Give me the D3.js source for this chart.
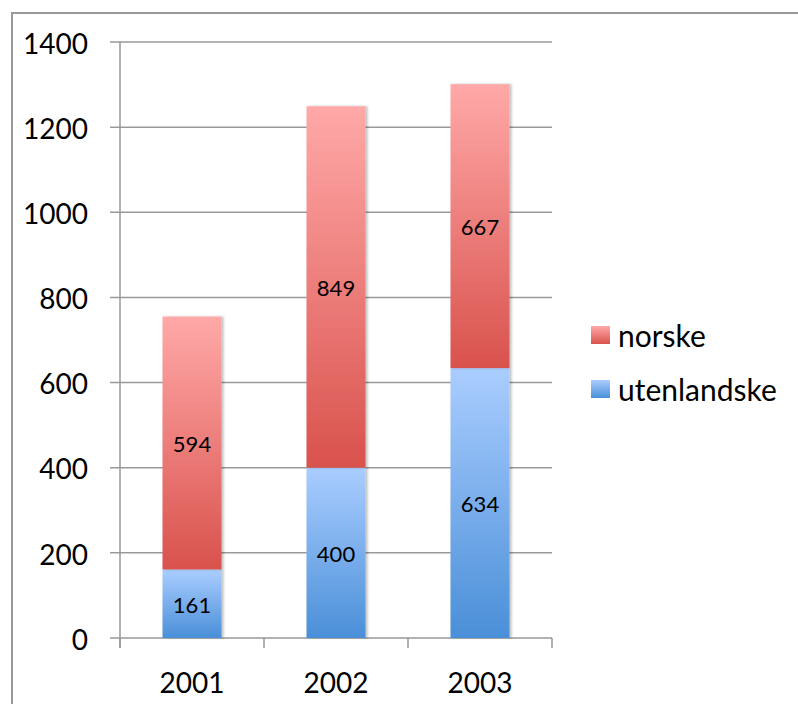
<!DOCTYPE html>
<html>
<head>
<meta charset="utf-8">
<script src="https://cdn.jsdelivr.net/npm/d3@7"></script>
<style>
  body { margin: 0; background: #fff; }
  svg { display: block; font-family: Lato, 'Open Sans', sans-serif; }
</style>
</head>
<body>
<div id="chart"></div>
<script>
const years = ['2001', '2002', '2003']
const utenlandske = [161, 400, 634]
const norske = [594, 849, 667]
const yTicks = [0, 200, 400, 600, 800, 1000, 1200, 1400]
const seriesNames = ['utenlandske', 'norske']

const width = 798
const height = 704
const margin = { left: 120, right: 246, top: 42, bottom: 66 }

const svg = d3.select('#chart')
  .append('svg')
  .attr('width', width)
  .attr('height', height)

// outer frame of the chart area
svg.append('rect')
  .attr('x', 12).attr('y', 13)
  .attr('width', width + 20).attr('height', height + 20)
  .attr('fill', 'none')
  .attr('stroke', '#999')
  .attr('stroke-width', 2)

const defs = svg.append('defs')
const gradients = {
  norske: ['#ffa9a8', '#d9524d'],
  utenlandske: ['#aacdff', '#4a8fd8']
}
Object.entries(gradients).forEach(([key, c]) => {
  const g = defs.append('linearGradient')
    .attr('id', 'grad-' + key)
    .attr('x1', 0).attr('y1', 0).attr('x2', 0).attr('y2', 1)
  g.append('stop').attr('offset', '0%').attr('stop-color', c[0])
  g.append('stop').attr('offset', '100%').attr('stop-color', c[1])
})
const shadow = defs.append('filter').attr('id', 'shadow')
  .attr('x', '-10%').attr('y', '-10%').attr('width', '130%').attr('height', '120%')
shadow.append('feDropShadow')
  .attr('dx', 2).attr('dy', 0).attr('stdDeviation', 1.2)
  .attr('flood-color', '#000').attr('flood-opacity', 0.25)

const x = d3.scaleBand()
  .domain(years)
  .range([margin.left, width - margin.right])
  .paddingInner(0.59)
  .paddingOuter(0.295)

const y = d3.scaleLinear()
  .domain([0, 1400])
  .range([height - margin.bottom, margin.top])

// gridlines
svg.append('g')
  .selectAll('line')
  .data(yTicks)
  .join('line')
  .attr('x1', margin.left - 10)
  .attr('x2', width - margin.right)
  .attr('y1', d => y(d))
  .attr('y2', d => y(d))
  .attr('stroke', '#999')
  .attr('stroke-width', 1.5)

// y axis line
svg.append('line')
  .attr('x1', margin.left).attr('x2', margin.left)
  .attr('y1', y(1400)).attr('y2', y(0) + 10)
  .attr('stroke', '#999').attr('stroke-width', 1.5)

// x category tick marks
const xStart = margin.left
svg.append('g')
  .selectAll('line')
  .data(d3.range(years.length + 1))
  .join('line')
  .attr('x1', i => xStart + i * x.step())
  .attr('x2', i => xStart + i * x.step())
  .attr('y1', y(0))
  .attr('y2', y(0) + 10)
  .attr('stroke', '#999').attr('stroke-width', 1.5)

// y tick labels
svg.append('g')
  .selectAll('text')
  .data(yTicks)
  .join('text')
  .attr('x', 88)
  .attr('y', d => y(d))
  .attr('dy', '0.42em')
  .attr('text-anchor', 'end')
  .attr('font-size', 28)
  .text(d => d)

// x labels
svg.append('g')
  .selectAll('text')
  .data(years)
  .join('text')
  .attr('x', d => x(d) + x.bandwidth() / 2)
  .attr('y', 693)
  .attr('text-anchor', 'middle')
  .attr('font-size', 28)
  .text(d => d)

const stackData = years.map((yr, i) => ({ year: yr, utenlandske: utenlandske[i], norske: norske[i] }))
const stacked = d3.stack().keys(seriesNames)(stackData)

const layers = svg.append('g')
  .selectAll('g')
  .data(stacked)
  .join('g')

layers.selectAll('rect')
  .data(s => s.map(d => ({ key: s.key, d })))
  .join('rect')
  .attr('x', o => x(o.d.data.year))
  .attr('width', x.bandwidth())
  .attr('y', o => y(o.d[1]))
  .attr('height', o => y(o.d[0]) - y(o.d[1]))
  .attr('fill', o => 'url(#grad-' + o.key + ')')
  .attr('filter', 'url(#shadow)')

layers.selectAll('text')
  .data(s => s.map(d => ({ key: s.key, d })))
  .join('text')
  .attr('x', o => x(o.d.data.year) + x.bandwidth() / 2)
  .attr('y', o => (y(o.d[0]) + y(o.d[1])) / 2)
  .attr('dy', '0.4em')
  .attr('text-anchor', 'middle')
  .attr('font-size', 22)
  .text(o => o.d.data[o.key])

// legend
const legend = svg.append('g')
  .selectAll('g')
  .data(['norske', 'utenlandske'])
  .join('g')
  .attr('transform', (d, i) => `translate(591, ${326 + i * 54})`)

legend.append('rect')
  .attr('width', 19).attr('height', 18)
  .attr('fill', d => 'url(#grad-' + d + ')')

legend.append('text')
  .attr('x', 27)
  .attr('y', 21)
  .attr('font-size', 30)
  .text(d => d)
</script>
</body>
</html>
